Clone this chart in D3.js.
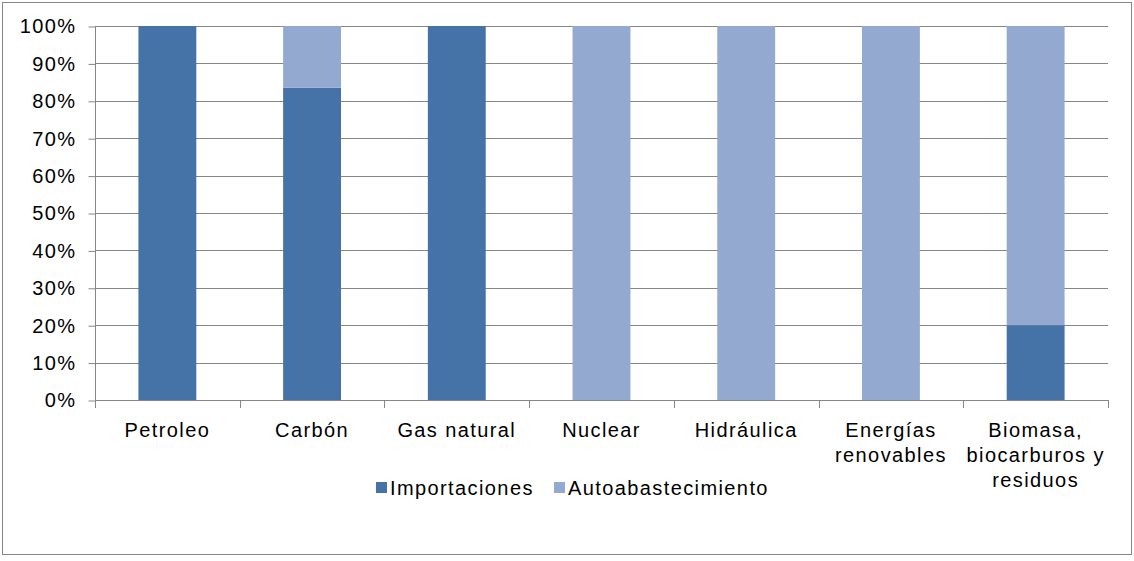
<!DOCTYPE html>
<html>
<head>
<meta charset="utf-8">
<script src="https://cdn.jsdelivr.net/npm/d3@7"></script>
<style>
  body { margin: 0; background: #fff; }
  text { font-family: "Liberation Sans", Arial, sans-serif; fill: #000; font-size: 20px; letter-spacing: 1.4px; }
</style>
</head>
<body>
<svg id="chart" width="1134" height="561"></svg>
<script>
// categories and shares (fraction of total supply)
var categories = ["Petroleo", "Carbón", "Gas natural", "Nuclear", "Hidráulica",
                  "Energías\nrenovables", "Biomasa,\nbiocarburos y\nresiduos"];
var importaciones = [1.0, 0.835, 1.0, 0, 0, 0, 0.20];
var autoabastecimiento = [0, 0.165, 0, 1.0, 1.0, 1.0, 0.80];
var seriesNames = ["Importaciones", "Autoabastecimiento"];
var yTicks = [0, 0.1, 0.2, 0.3, 0.4, 0.5, 0.6, 0.7, 0.8, 0.9, 1.0];

var colors = ["#4572A7", "#93A9CF"];

var svg = d3.select("#chart");

// outer frame
svg.append("rect")
    .attr("x", 2.5).attr("y", 2.5)
    .attr("width", 1129).attr("height", 552)
    .attr("fill", "#fff")
    .attr("stroke", "#868686")
    .attr("stroke-width", 1);

var plotLeft = 95, plotRight = 1108, plotTop = 26, plotBottom = 400;

var x = d3.scaleBand()
    .domain(d3.range(categories.length))
    .range([plotLeft, plotRight])
    .paddingInner(0.6)
    .paddingOuter(0.3);

var xOuter = d3.scaleBand()
    .domain(d3.range(categories.length))
    .range([plotLeft, plotRight]);

var y = d3.scaleLinear().domain([0, 1]).range([plotBottom, plotTop]);

// gridlines
svg.append("g").selectAll("line")
    .data(yTicks.slice(1))
    .enter().append("line")
    .attr("x1", plotLeft).attr("x2", plotRight)
    .attr("y1", function(d){ return Math.round(y(d)) + 0.5; })
    .attr("y2", function(d){ return Math.round(y(d)) + 0.5; })
    .attr("stroke", "#868686");

// stacked bars
var stack = d3.stack().keys([0, 1])
    .value(function(d, k){ return k === 0 ? importaciones[d] : autoabastecimiento[d]; });
var layers = stack(d3.range(categories.length));

svg.append("g").selectAll("g")
    .data(layers)
    .enter().append("g")
    .attr("fill", function(d, i){ return colors[i]; })
    .selectAll("rect")
    .data(function(d){ return d; })
    .enter().append("rect")
    .attr("x", function(d){ return x(d.data); })
    .attr("width", x.bandwidth())
    .attr("y", function(d){ return y(d[1]); })
    .attr("height", function(d){ return y(d[0]) - y(d[1]); });

// y axis
var yAxis = d3.axisLeft(y)
    .tickValues(yTicks)
    .tickFormat(d3.format(".0%"))
    .tickSize(7)
    .tickPadding(12);

var ya = svg.append("g")
    .attr("transform", "translate(" + (plotLeft + 0.5) + ",0.5)")
    .call(yAxis);
ya.selectAll("line, path").attr("stroke", "#868686");
ya.select(".domain").attr("d", "M0," + (plotTop - 0.5) + "V" + (plotBottom - 0.5));
ya.selectAll("text")
    .attr("font-size", null)
    .attr("font-family", null)
    .style("font-size", "20px");

// x axis line and tick marks between categories
svg.append("line")
    .attr("x1", plotLeft).attr("x2", plotRight)
    .attr("y1", plotBottom + 0.5).attr("y2", plotBottom + 0.5)
    .attr("stroke", "#868686");

svg.append("g").selectAll("line")
    .data(d3.range(categories.length + 1))
    .enter().append("line")
    .attr("x1", function(d){ return Math.round(d < categories.length ? xOuter(d) : plotRight) + 0.5; })
    .attr("x2", function(d){ return Math.round(d < categories.length ? xOuter(d) : plotRight) + 0.5; })
    .attr("y1", plotBottom).attr("y2", plotBottom + 8)
    .attr("stroke", "#868686");

// category labels
var labels = svg.append("g").selectAll("text")
    .data(categories)
    .enter().append("text")
    .attr("text-anchor", "middle")
    .attr("transform", function(d, i){
        return "translate(" + (xOuter(i) + xOuter.bandwidth() / 2) + "," + 437 + ")";
    });

labels.selectAll("tspan")
    .data(function(d){ return d.split("\n"); })
    .enter().append("tspan")
    .attr("x", 0)
    .attr("dy", function(d, i){ return i === 0 ? 0 : 25; })
    .text(function(d){ return d; });

// legend
var legendX = [376, 554];
var legend = svg.append("g").selectAll("g")
    .data(seriesNames)
    .enter().append("g")
    .attr("transform", function(d, i){ return "translate(" + legendX[i] + ",482)"; });

legend.append("rect")
    .attr("width", 11).attr("height", 11)
    .attr("fill", function(d, i){ return colors[i]; });

legend.append("text")
    .attr("x", 14).attr("y", 13)
    .text(function(d){ return d; });
</script>
</body>
</html>
